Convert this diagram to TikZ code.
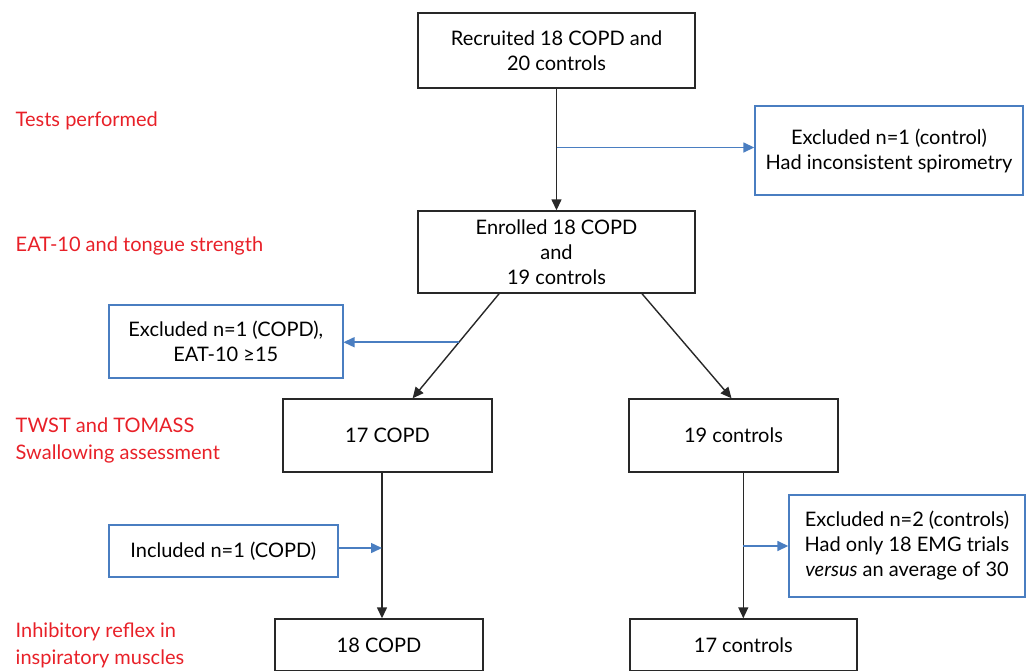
\documentclass[tikz,border=0pt]{standalone}
\usepackage{fontspec}
\setmainfont{Lato}
\usetikzlibrary{arrows.meta}
\definecolor{lblred}{RGB}{232,32,40}
\definecolor{xblue}{RGB}{74,126,193}
\definecolor{ln}{RGB}{40,40,40}
\begin{document}
\begin{tikzpicture}[x=1pt,y=-1pt,line width=1.4pt,
  box/.style={draw=ln,align=center,inner sep=0pt,font=\fontsize{20}{25}\selectfont},
  bbox/.style={box,draw=xblue},
  lbl/.style={text=lblred,align=left,anchor=west,inner sep=0pt,font=\fontsize{20}{27}\selectfont},
  arr/.style={draw=ln,-{Triangle[length=11pt,width=10pt]}},
  barr/.style={draw=xblue,line width=1.5pt,-{Triangle[length=11pt,width=10pt]}}]
  \useasboundingbox (0,0) rectangle (1029,670);
  \clip (0,0) rectangle (1029,670);
  \node [lbl] (t1) at (15,121) {Tests performed};
  \node [lbl] (t2) at (15,246) {EAT-10 and tongue strength};
  \node [lbl] (t3) at (15,440) {TWST and TOMASS\\Swallowing assessment};
  \node [lbl] (t4) at (15,645.5) {Inhibitory reflex in\\inspiratory muscles};
  \node [box,minimum width=277pt,minimum height=75pt] (r) at (556.5,50.5) {Recruited 18 COPD and\\20 controls};
  \node [bbox,minimum width=268pt,minimum height=89pt] (x1) at (889,150.5) {Excluded n=1 (control)\\Had inconsistent spirometry};
  \node [box,minimum width=277pt,minimum height=82pt] (e) at (556.5,252) {Enrolled 18 COPD\\and\\19 controls};
  \node [bbox,minimum width=234pt,minimum height=73pt] (x2) at (225.8,341.5) {Excluded n=1 (COPD),\\EAT-10 ≥15};
  \node [box,minimum width=209pt,minimum height=73pt] (c1) at (387.5,435.5) {17 COPD};
  \node [box,minimum width=209pt,minimum height=73pt] (k1) at (733.5,435.5) {19 controls};
  \node [bbox,minimum width=229pt,minimum height=52pt] (i1) at (223.3,551) {Included n=1 (COPD)};
  \node [bbox,minimum width=236pt,minimum height=102pt] (x3) at (907,546) {Excluded n=2 (controls)\\Had only 18 EMG trials\\\emph{versus} an average of 30};
  \node [box,minimum width=208pt,minimum height=52pt] (c2) at (379,645) {18 COPD};
  \node [box,minimum width=227pt,minimum height=52pt] (k2) at (743.3,645) {17 controls};
  \coordinate (v1) at ([xshift=-5.5pt]c1.south);
  \draw [arr] (r) -- (e);
  \draw [barr] ([yshift=3pt]x1.west -| r.south) -- ([yshift=3pt]x1.west);
  \draw [arr] (e.216) -- coordinate[pos=0.464] (m1) (c1.56);
  \draw [barr] (m1) -- (m1 -| x2.east);
  \draw [arr] (e.334) -- (k1.93);
  \draw [arr] (v1) -- (v1 |- c2.north);
  \draw [barr] ([yshift=3pt]i1.east) -- ([yshift=3pt]i1.east -| v1);
  \draw [arr] (k2.north |- k1.south) -- (k2.north);
  \draw [barr] (x3.west -| k2.north) -- (x3.west);
\end{tikzpicture}
\end{document}
